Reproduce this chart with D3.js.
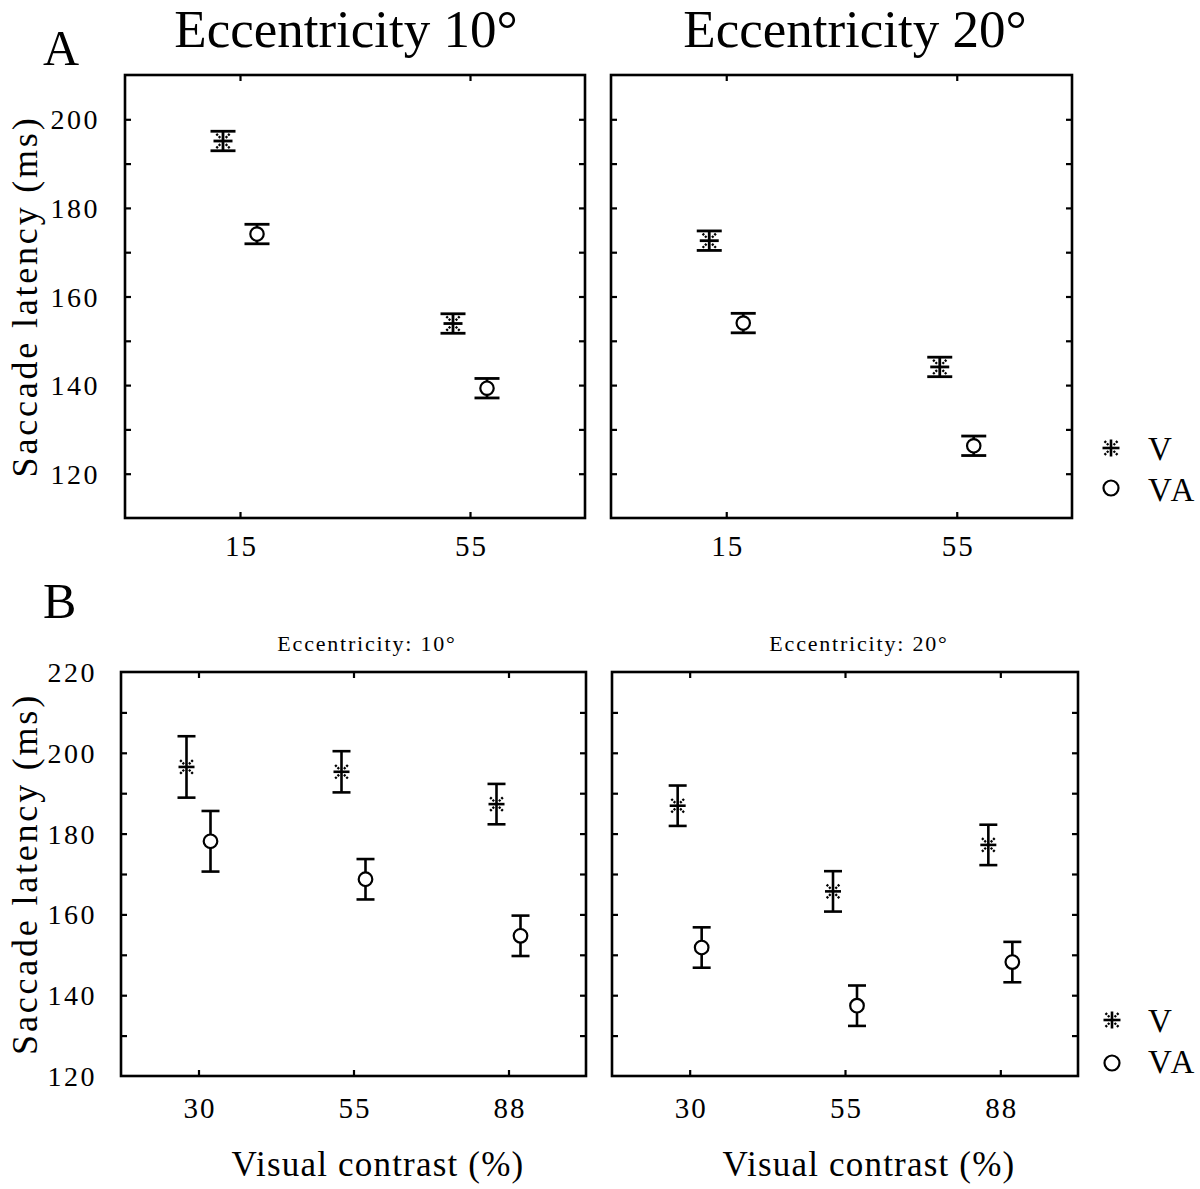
<!DOCTYPE html>
<html><head><meta charset="utf-8">
<script src="https://cdn.jsdelivr.net/npm/d3@7"></script>
<style>
body{margin:0;background:#fff;}
svg{display:block;}
text{font-family:"Liberation Serif","Times New Roman",serif;fill:#000;}
</style></head>
<body><svg id="c" width="1200" height="1189"></svg>
<script>
// ---------- DATA ----------
const panelATitles = ["Eccentricity 10°", "Eccentricity 20°"];
const panelBTitles = ["Eccentricity: 10°", "Eccentricity: 20°"];
const aCategories = ["15", "55"];
const aTicks = [120, 140, 160, 180, 200];
const aV_ecc10 = [195.1, 153.9];
const aV_ecc10_err = [2.2, 2.2];
const aVA_ecc10 = [174.1, 139.3];
const aVA_ecc10_err = [2.2, 2.2];
const aV_ecc20 = [172.6, 144.1];
const aV_ecc20_err = [2.2, 2.2];
const aVA_ecc20 = [154.0, 126.3];
const aVA_ecc20_err = [2.2, 2.2];

const bCategories = ["30", "55", "88"];
const bTicks = [120, 140, 160, 180, 200, 220];
const bV_ecc10 = [196.5, 195.3, 187.3];
const bV_ecc10_err = [7.6, 5.1, 5.0];
const bVA_ecc10 = [178.1, 168.7, 154.7];
const bVA_ecc10_err = [7.5, 5.0, 5.0];
const bV_ecc20 = [186.9, 165.7, 177.2];
const bV_ecc20_err = [5.0, 5.0, 5.0];
const bVA_ecc20 = [151.8, 137.4, 148.2];
const bVA_ecc20_err = [5.0, 5.0, 5.0];

const seriesNames = ["V", "VA"];
const yLabel = "Saccade latency (ms)";
const xLabel = "Visual contrast (%)";

// ---------- DRAW ----------
const svg = d3.select("#c");

function diagDashes(g, cx, cy, s){
  [[1,1],[1,-1],[-1,1],[-1,-1]].forEach(([dx,dy])=>{
    g.append("line").attr("x1",cx+dx*s*0.3).attr("y1",cy+dy*s*0.35)
      .attr("x2",cx+dx*s*0.8).attr("y2",cy+dy*s*0.85)
      .attr("stroke","#000").attr("stroke-width",2.3).attr("stroke-dasharray","2.2,1.2");
  });
}

function starMarker(g, cx, cy, s, lw){
  g.append("line").attr("x1",cx-s).attr("x2",cx+s).attr("y1",cy).attr("y2",cy)
    .attr("stroke","#000").attr("stroke-width",lw);
  g.append("line").attr("x1",cx).attr("x2",cx).attr("y1",cy-s).attr("y2",cy+s)
    .attr("stroke","#000").attr("stroke-width",lw);
  diagDashes(g, cx, cy, s);
}

function panel(opt){
  const {x0,x1,y0,y1,domain,cats,ticks,series,offset,capW,lw,r,meanW,starS,showY,yTickX,xTickY} = opt;
  const g = svg.append("g");
  const x = d3.scalePoint().domain(cats).range([x0,x1]).padding(0.5);
  const y = d3.scaleLinear().domain(domain).range([y1,y0]);
  const allTicks = d3.range(domain[0]+10, domain[1], 10);
  const tl = 6;
  const style = a=>{a.select(".domain").remove(); a.selectAll("line").attr("stroke-width",2.2);};
  g.append("g").attr("transform",`translate(${x0},0)`)
    .call(d3.axisRight(y).tickValues(allTicks).tickSize(tl).tickFormat("")).call(style);
  g.append("g").attr("transform",`translate(${x1},0)`)
    .call(d3.axisLeft(y).tickValues(allTicks).tickSize(tl).tickFormat("")).call(style);
  g.append("g").attr("transform",`translate(0,${y0})`)
    .call(d3.axisBottom(x).tickSize(tl).tickFormat("")).call(style);
  g.append("g").attr("transform",`translate(0,${y1})`)
    .call(d3.axisTop(x).tickSize(tl).tickFormat("")).call(style);
  g.append("rect").attr("x",x0).attr("y",y0).attr("width",x1-x0).attr("height",y1-y0)
    .attr("fill","none").attr("stroke","#000").attr("stroke-width",2.6);
  if(showY){
    g.append("g").attr("transform",`translate(${yTickX},0)`)
      .call(d3.axisLeft(y).tickValues(ticks).tickSize(0).tickPadding(0))
      .call(a=>{a.select(".domain").remove();
        a.selectAll("text").style("font-family",'"Liberation Serif",serif')
          .attr("font-size",28).attr("letter-spacing","2.5px").attr("dy","0.34em");});
  }
  g.append("g").attr("transform",`translate(0,${xTickY})`)
    .call(d3.axisBottom(x).tickSize(0).tickPadding(0))
    .call(a=>{a.select(".domain").remove();
      a.selectAll("text").style("font-family",'"Liberation Serif",serif')
        .attr("font-size",29).attr("letter-spacing","2px").attr("dy",0).attr("dx","1px");});
  series.forEach((s,si)=>{
    cats.forEach((c,i)=>{
      const cx = x(c) + (si===0 ? -offset : offset);
      const m = s.vals[i], e = s.errs[i];
      const yt = y(m+e), yb = y(m-e), ym = y(m);
      g.append("line").attr("x1",cx).attr("x2",cx).attr("y1",yt).attr("y2",yb)
        .attr("stroke","#000").attr("stroke-width",lw);
      [yt,yb].forEach(yy=>g.append("line").attr("x1",cx-capW/2).attr("x2",cx+capW/2)
        .attr("y1",yy).attr("y2",yy).attr("stroke","#000").attr("stroke-width",lw));
      if(si===0){
        g.append("line").attr("x1",cx-meanW/2).attr("x2",cx+meanW/2).attr("y1",ym).attr("y2",ym)
          .attr("stroke","#000").attr("stroke-width",lw);
        diagDashes(g, cx, ym, starS);
      } else {
        g.append("circle").attr("cx",cx).attr("cy",ym).attr("r",r)
          .attr("fill","#fff").attr("stroke","#000").attr("stroke-width",2.2);
      }
    });
  });
  return {x,y};
}

function legend(sx, sy, vy, vay){
  starMarker(svg, sx, sy, 8.5, 2.6);
  svg.append("circle").attr("cx",sx).attr("cy",vy).attr("r",7.5)
    .attr("fill","#fff").attr("stroke","#000").attr("stroke-width",2.2);
  svg.append("text").attr("x",1148).attr("y",sy+12).attr("font-size",33).attr("letter-spacing","3px").text(seriesNames[0]);
  svg.append("text").attr("x",1148).attr("y",vay).attr("font-size",33).attr("letter-spacing","3px").text(seriesNames[1]);
}

// Panel A
const aCommon = {domain:[110,210], cats:aCategories, ticks:aTicks, offset:17, capW:25, lw:2.8, r:6.7, meanW:19, starS:9, xTickY:556};
panel(Object.assign({x0:125,x1:585,y0:75,y1:518,showY:true,yTickX:100,
  series:[{vals:aV_ecc10,errs:aV_ecc10_err},{vals:aVA_ecc10,errs:aVA_ecc10_err}]},aCommon));
panel(Object.assign({x0:611,x1:1072,y0:75,y1:518,showY:false,
  series:[{vals:aV_ecc20,errs:aV_ecc20_err},{vals:aVA_ecc20,errs:aVA_ecc20_err}]},aCommon));

// Panel B
const bCommon = {domain:[120,220], cats:bCategories, ticks:bTicks, offset:12, capW:18, lw:2.6, r:6.8, meanW:16, starS:8, xTickY:1118};
panel(Object.assign({x0:121,x1:586,y0:672,y1:1076,showY:true,yTickX:97,
  series:[{vals:bV_ecc10,errs:bV_ecc10_err},{vals:bVA_ecc10,errs:bVA_ecc10_err}]},bCommon));
panel(Object.assign({x0:612,x1:1078,y0:672,y1:1076,showY:false,
  series:[{vals:bV_ecc20,errs:bV_ecc20_err},{vals:bVA_ecc20,errs:bVA_ecc20_err}]},bCommon));

// Titles
svg.append("text").attr("x",346).attr("y",47).attr("text-anchor","middle").attr("font-size",53).text(panelATitles[0]);
svg.append("text").attr("x",855).attr("y",47).attr("text-anchor","middle").attr("font-size",53).text(panelATitles[1]);
svg.append("text").attr("x",367).attr("y",651).attr("text-anchor","middle").attr("font-size",22).attr("letter-spacing","1.8px").text(panelBTitles[0]);
svg.append("text").attr("x",859).attr("y",651).attr("text-anchor","middle").attr("font-size",22).attr("letter-spacing","1.8px").text(panelBTitles[1]);
svg.append("text").attr("x",43).attr("y",65).attr("font-size",50).text("A");
svg.append("text").attr("x",43).attr("y",618).attr("font-size",50).text("B");

// Y labels
[296.5, 874].forEach(cy=>{
  svg.append("text").attr("transform",`translate(37,${cy}) rotate(-90)`)
    .attr("text-anchor","middle").attr("font-size",36).attr("letter-spacing","2.8px").text(yLabel);
});
// X labels
svg.append("text").attr("x",378).attr("y",1176).attr("text-anchor","middle").attr("font-size",35).attr("letter-spacing","1.2px").text(xLabel);
svg.append("text").attr("x",869).attr("y",1176).attr("text-anchor","middle").attr("font-size",35).attr("letter-spacing","1.2px").text(xLabel);

legend(1111, 448, 488, 501);
legend(1112, 1020, 1063, 1073);
</script></body></html>
